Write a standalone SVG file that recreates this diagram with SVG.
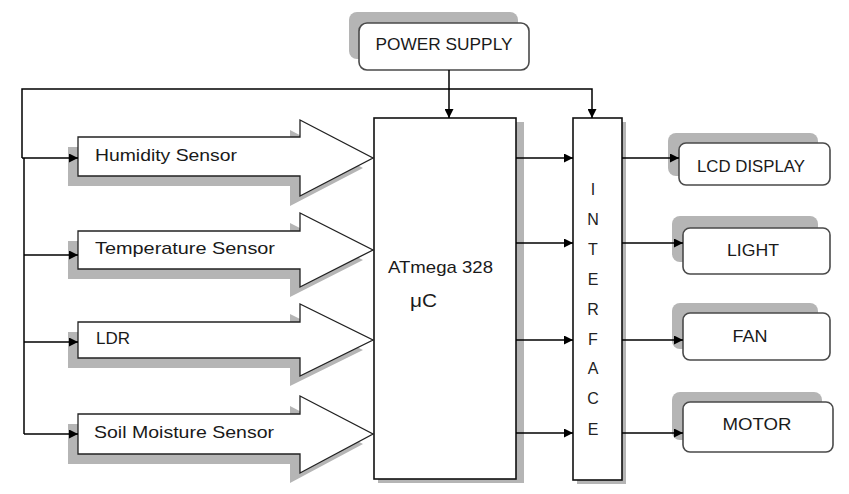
<svg xmlns="http://www.w3.org/2000/svg" width="849" height="494" viewBox="0 0 849 494">
<defs>
<style>
.bg{fill:#ffffff}
.shd{fill:#b5b5b5}
.box{fill:#ffffff;stroke:#4a4a4a;stroke-width:1.6}
.blk{fill:#ffffff;stroke:#111;stroke-width:1.6}
.sen{fill:#ffffff;stroke:#222;stroke-width:1.3}
.lbl{font-family:"Liberation Sans",Arial,sans-serif;font-size:17px;fill:#1a1a1a}
.ctr{text-anchor:middle}
.ln{fill:none;stroke:#000;stroke-width:1.5}
</style>
<marker id="ah" viewBox="0 0 10 10" refX="10" refY="5" markerWidth="10" markerHeight="9" markerUnits="userSpaceOnUse" orient="auto">
<path d="M0,0 L10,5 L0,10 Z" fill="#000"/>
</marker>
</defs>
<rect class="bg" x="0" y="0" width="849" height="494"/>

<g id="power-supply">
<rect class="shd" x="349" y="12" width="169" height="47" rx="8"/>
<rect class="box" x="359" y="23" width="170" height="47" rx="8"/>
<text class="lbl ctr" x="444" y="50" textLength="137" lengthAdjust="spacingAndGlyphs">POWER SUPPLY</text>
</g>

<g id="humidity-sensor">
<path class="shd" d="M68,147 H290 V130 L363,168 L290,206 V186 H68 Z"/>
<path class="sen" d="M78,137 H300 V120 L373,158 L300,196 V176 H78 Z"/>
<text class="lbl" x="95" y="161" textLength="142" lengthAdjust="spacingAndGlyphs">Humidity Sensor</text>
</g>

<g id="temperature-sensor">
<path class="shd" d="M68,241 H290 V223 L363,260 L290,297 V279 H68 Z"/>
<path class="sen" d="M78,231 H300 V213 L373,250 L300,287 V269 H78 Z"/>
<text class="lbl" x="95" y="254" textLength="180" lengthAdjust="spacingAndGlyphs">Temperature Sensor</text>
</g>

<g id="ldr">
<path class="shd" d="M68,332 H290 V314 L363,350 L290,386 V368 H68 Z"/>
<path class="sen" d="M78,322 H300 V304 L373,340 L300,376 V358 H78 Z"/>
<text class="lbl" x="96" y="344" textLength="34" lengthAdjust="spacingAndGlyphs">LDR</text>
</g>

<g id="soil-moisture-sensor">
<path class="shd" d="M68,424 H290 V406 L363,444 L290,483 V464 H68 Z"/>
<path class="sen" d="M78,414 H300 V396 L373,434 L300,473 V454 H78 Z"/>
<text class="lbl" x="94" y="438" textLength="180" lengthAdjust="spacingAndGlyphs">Soil Moisture Sensor</text>
</g>

<g id="microcontroller">
<rect class="shd" x="378" y="122" width="146" height="361"/>
<rect class="blk" x="374" y="118" width="142" height="361"/>
<text class="lbl" x="388" y="273" textLength="105" lengthAdjust="spacingAndGlyphs">ATmega 328</text>
<text class="lbl" x="410" y="307" style="font-size:19px" textLength="27" lengthAdjust="spacingAndGlyphs">μC</text>
</g>

<g id="interface">
<rect class="shd" x="577" y="122" width="49" height="362"/>
<rect class="blk" x="573" y="118" width="49" height="362"/>
<g class="lbl ctr" style="font-size:16px;fill:#222">
<text x="593" y="195">I</text>
<text x="593" y="225">N</text>
<text x="593" y="255">T</text>
<text x="593" y="285">E</text>
<text x="593" y="315">R</text>
<text x="593" y="345">F</text>
<text x="593" y="374">A</text>
<text x="593" y="404">C</text>
<text x="593" y="435">E</text>
</g>
</g>

<g id="lcd-display">
<rect class="shd" x="668" y="133" width="150" height="43" rx="8"/>
<rect class="box" x="679" y="143" width="151" height="42" rx="7"/>
<text class="lbl ctr" x="751" y="172" textLength="108" lengthAdjust="spacingAndGlyphs">LCD DISPLAY</text>
</g>

<g id="light">
<rect class="shd" x="672" y="216" width="146" height="46" rx="8"/>
<rect class="box" x="683" y="228" width="147" height="46" rx="7"/>
<text class="lbl ctr" x="753" y="256" textLength="52" lengthAdjust="spacingAndGlyphs">LIGHT</text>
</g>

<g id="fan">
<rect class="shd" x="672" y="303" width="146" height="46" rx="8"/>
<rect class="box" x="683" y="313" width="147" height="47" rx="7"/>
<text class="lbl ctr" x="750" y="342" textLength="35" lengthAdjust="spacingAndGlyphs">FAN</text>
</g>

<g id="motor">
<rect class="shd" x="672" y="392" width="150" height="48" rx="8"/>
<rect class="box" x="683" y="402" width="150" height="50" rx="7"/>
<text class="lbl ctr" x="757" y="430" textLength="69" lengthAdjust="spacingAndGlyphs">MOTOR</text>
</g>

<g id="connectors">
<path class="ln" d="M22,158 V89 H592 V118" marker-end="url(#ah)"/>
<path class="ln" d="M449,70 V118" marker-end="url(#ah)"/>
<path class="ln" d="M22,158 H78" marker-end="url(#ah)"/>
<path class="ln" d="M24,158 V434"/>
<path class="ln" d="M24,255 H78" marker-end="url(#ah)"/>
<path class="ln" d="M24,342 H78" marker-end="url(#ah)"/>
<path class="ln" d="M24,434 H78" marker-end="url(#ah)"/>
<path class="ln" d="M516,158 H573" marker-end="url(#ah)"/>
<path class="ln" d="M516,243 H573" marker-end="url(#ah)"/>
<path class="ln" d="M516,340 H573" marker-end="url(#ah)"/>
<path class="ln" d="M516,433 H573" marker-end="url(#ah)"/>
<path class="ln" d="M622,158 H679" marker-end="url(#ah)"/>
<path class="ln" d="M622,243 H683" marker-end="url(#ah)"/>
<path class="ln" d="M622,340 H683" marker-end="url(#ah)"/>
<path class="ln" d="M622,433 H683" marker-end="url(#ah)"/>
</g>
</svg>
